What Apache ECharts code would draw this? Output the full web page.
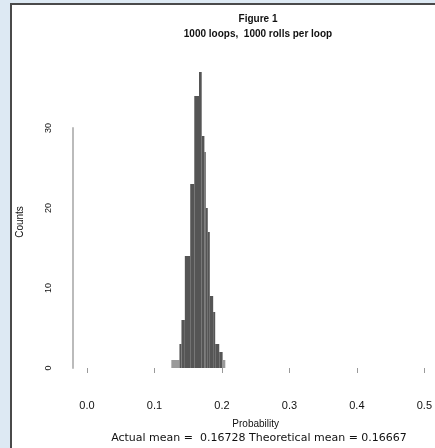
<!DOCTYPE html>
<html><head><meta charset="utf-8">
<script src="https://cdn.jsdelivr.net/npm/echarts@6/dist/echarts.min.js"></script>
<style>html,body{margin:0;padding:0;background:#dde9f3}#c{width:435px;height:448px}</style>
</head><body><div id="c"></div>
<script>
// Histogram blocks (probability range and count)
const binStarts = [0.125, 0.137, 0.140, 0.145, 0.153, 0.159, 0.166, 0.170, 0.174, 0.176, 0.179, 0.182, 0.187, 0.190, 0.196, 0.201];
const binEnds   = [0.137, 0.140, 0.145, 0.153, 0.159, 0.166, 0.170, 0.174, 0.176, 0.179, 0.182, 0.187, 0.190, 0.196, 0.201, 0.205];
const counts    = [1, 3, 6, 14, 23, 34, 37, 29, 27, 20, 17, 9, 7, 3, 2, 1];
const xTicks = [0, 0.1, 0.2, 0.3, 0.4, 0.5];
const yTicks = [0, 10, 20, 30];
const titleText = 'Figure 1';
const subtitleText = '1000 loops,  1000 rolls per loop';
const xName = 'Probability';
const yName = 'Counts';
const footText = 'Actual mean =  0.16728 Theoretical mean = 0.16667';

const FONT = '"Liberation Sans", Arial, sans-serif';
const WIDE = '"DejaVu Sans", sans-serif';
const chart = echarts.init(document.getElementById('c'), null, {renderer: 'canvas'});
const data = binStarts.map((s, i) => [s, binEnds[i], counts[i]]);

chart.setOption({
  animation: false,
  backgroundColor: 'transparent',
  graphic: [
    {type: 'rect', z: -10, shape: {x: 11, y: 4, width: 440, height: 460},
     style: {fill: '#ffffff', stroke: '#4a4a4a', lineWidth: 2}},
    {type: 'text', x: 20, y: 222, rotation: Math.PI / 2,
     style: {text: yName, font: '10px ' + FONT, fill: '#111', align: 'center', verticalAlign: 'middle'}}
  ],
  title: [
    {text: titleText, left: 253, top: 9, textAlign: 'center',
     textStyle: {fontFamily: FONT, fontSize: 10, fontWeight: 'bold', color: '#111'}},
    {text: subtitleText, left: 253, top: 24, textAlign: 'center',
     textStyle: {fontFamily: FONT, fontSize: 10, fontWeight: 'bold', color: '#111'}},
    {text: footText, left: 254, top: 428, textAlign: 'center',
     textStyle: {fontFamily: WIDE, fontSize: 11, fontWeight: 'normal', color: '#111'}}
  ],
  grid: [
    {left: 87, top: 48, width: 343, height: 320},
    {left: 73, top: 128, width: 10, height: 240}
  ],
  xAxis: [
    {type: 'value', gridIndex: 0, min: xTicks[0], max: xTicks[xTicks.length - 1], interval: 0.1,
     offset: 14, axisLine: {show: false},
     axisTick: {show: true, length: 5, lineStyle: {color: '#999', width: 1}},
     splitLine: {show: false},
     axisLabel: {margin: 18, fontFamily: FONT, fontSize: 11, color: '#111',
       formatter: v => v.toFixed(1), showMinLabel: true, showMaxLabel: true},
     name: xName, nameLocation: 'middle', nameGap: 37,
     nameTextStyle: {fontFamily: FONT, fontSize: 10, color: '#111'}},
    {type: 'value', gridIndex: 1, show: false, min: 0, max: 1}
  ],
  yAxis: [
    {type: 'value', gridIndex: 0, min: 0, max: 40, show: false},
    {type: 'value', gridIndex: 1, min: yTicks[0], max: yTicks[yTicks.length - 1], interval: 10,
     axisLine: {show: true, lineStyle: {color: '#bbbbbb', width: 2}},
     axisTick: {show: false},
     splitLine: {show: false},
     axisLabel: {rotate: 90, margin: 20, fontFamily: FONT, fontSize: 9, color: '#111'}}
  ],
  series: [{
    type: 'custom',
    xAxisIndex: 0, yAxisIndex: 0,
    data: data,
    encode: {x: [0, 1], y: 2},
    renderItem: function (params, api) {
      const p0 = api.coord([api.value(0), api.value(2)]);
      const p1 = api.coord([api.value(1), 0]);
      return {
        type: 'rect',
        shape: {x: p0[0], y: p0[1], width: p1[0] - p0[0], height: p1[1] - p0[1]},
        style: {fill: api.value(2) <= 1 ? '#9a9a9a' : '#555555', stroke: null}
      };
    }
  }]
});
</script>
</body></html>
